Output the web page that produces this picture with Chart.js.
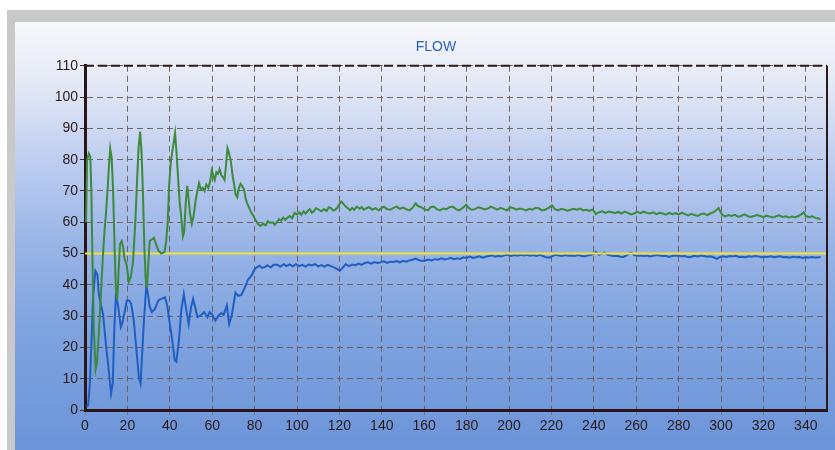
<!DOCTYPE html>
<html>
<head>
<meta charset="utf-8">
<script src="https://cdn.jsdelivr.net/npm/chart.js@4.4.1/dist/chart.umd.min.js"></script>
<style>
    html, body { margin: 0; padding: 0; background: #ffffff; }
    #frame {
        position: absolute; left: 7px; top: 10px; width: 828px; height: 440px;
        background: #c9c9c9;
    }
    #panel {
        position: absolute; left: 8px; top: 12px; right: 0; bottom: 0;
        background: linear-gradient(to bottom, #f7f8fb 0%, #e4e9f5 14%, #bfcef0 32%, #98b4e6 52%, #7fa3df 72%, #6b94d9 100%);
    }
    #wrap { position: absolute; left: 0; top: 0; width: 835px; height: 450px; }
</style>
</head>
<body>
<div id="frame"><div id="panel"></div></div>
<div id="wrap"><canvas id="flowChart" width="835" height="450"></canvas></div>
<script>
// flow readings: [time, value]
const greenFlow = [
    [0.5,60],[1,80],[1.8,82],[2.5,81],[3,70],[3.6,45],[4.2,25],[5,13],[5.6,15],[6.5,24],[7.5,37],[8.5,50],
    [9.2,57],[10,64],[10.7,71],[11.3,78],[11.9,83.5],[12.6,80.5],[13.3,69],[14,51],[14.6,38],[15.2,35],[15.8,44],
    [16.5,53],[17.3,54],[18,52],[18.6,48.5],[19.6,46.5],[20.7,41],[21.6,42.5],[22.6,47],[23.3,55],[23.8,61],
    [24.6,74],[25.3,84],[26,89],[26.7,82],[27.3,70],[28,52],[28.6,42],[29.2,39],[29.8,46],[30.5,54],[31.5,54.5],
    [32.5,55],[33.5,53],[34.6,51],[36,50],[37.5,50.5],[38.3,54],[39,60],[39.7,72],[40.5,79.5],[41.5,84],
    [42.5,88.5],[43.2,82],[43.9,74.4],[44.7,66],[45.4,61.8],[46.2,55.5],[46.8,57],[47.5,66],[48.2,71.6],
    [48.8,68],[49.5,63],[50.4,59.5],[51.2,62],[52.2,67],[53,70],[53.8,72.5],[54.6,70.5],[55.5,71],[56.4,70],
    [57.2,72],[58.2,71],[59,73],[59.8,76.5],[60.5,75],[61.2,73.5],[62,76],[62.7,75.5],[63.5,77],[64.3,75],
    [65,74.5],[65.8,73.5],[66.5,78],[67.2,83.7],[68,82],[68.8,79.5],[69.6,75],[70.3,72.3],[71,69],[71.8,68],
    [72.6,71],[73.4,72.3],[74.2,71.5],[75,70.5],[75.8,67.5],[76.5,66],[77.5,64.5],[78.5,63],[79.5,62],
    [80.4,60.7],[81.5,59.5],[82.8,58.8],[84,59.5],[85.2,59],[86.2,60.3],[87.3,59.8],[88.5,60],[89.5,59.2],
    [90.5,60],[91.5,61],[92.5,60.5],[93.5,61.5],[94.5,60.8],[95.6,61.5],[96.6,62],[97.7,61.3],[98.8,63],
    [100,62.5],[101,63.2],[102,62.4],[103,63.5],[104,62.8],[105,63.5],[106,64.2],[107,63],[108,63.6],[109,64.5],
    [110.4,64],[111.5,63.5],[112.8,64.2],[114,63.6],[115,64.8],[116,64.5],[117,63.8],[118,64],[119,64.6],
    [120,65.8],[120.9,66.6],[122,65.8],[123,65],[124,64.5],[125,63.8],[126,64.6],[127,64],[128.3,65],
    [129.5,64.3],[130.5,64.8],[131.5,64],[132.5,64.4],[134,64.8],[135.5,64],[137,64.5],[138.5,63.8],[140,64.6],
    [141,65],[142.5,64.2],[144,64],[145.5,64.6],[147,65],[148.5,64.3],[150,64.7],[151.5,64.2],[153,63.8],
    [154.5,64.6],[156,66],[157,65.2],[158.5,64.8],[160,64.2],[161.8,63.8],[163,64.8],[164.5,65],[166,64.2],
    [167.5,63.8],[169,64.4],[170.5,64.2],[172,64.8],[173.5,65],[175,64.2],[176.5,63.8],[178,64.5],[179.8,65.6],
    [181,64.6],[182.5,64],[184,64.2],[185.5,64.8],[187,64.5],[188.5,64.1],[190,64.4],[191.5,65],[193,64.5],
    [194.5,64],[196,64.6],[197.5,64.2],[199,63.8],[200.5,64.8],[202,64.5],[203.5,64],[205,64.4],[206.5,64.2],
    [208,63.8],[209.5,64.3],[211,64],[212.5,64.6],[214,64.5],[215.5,63.8],[217,64],[218.5,64.5],[220.3,65.4],
    [221.5,64.3],[223,63.8],[224.5,64.2],[226,64.1],[227.5,63.7],[229,64],[230.5,64.3],[232,64],[233.5,64.4],
    [235,63.8],[236.5,64],[238,63.6],[239.5,64.1],[241,62.6],[242.5,63.2],[244,63.5],[245.5,63],[247,63.4],
    [248.5,63.2],[250,63],[251.5,63.3],[253,62.8],[254.5,63.4],[256,63],[257.5,62.5],[259,62.8],[260.5,63.3],
    [262,62.9],[263.5,63.4],[265,63],[266.5,62.8],[268,63.2],[269.5,62.6],[271,63],[272.5,62.8],[274,62.4],
    [275.5,63],[277,62.6],[278.5,62.9],[280,62.5],[281.5,63],[283,62.6],[284.5,62.2],[286,62.7],[287.5,62.3],
    [289,62],[290.5,62.6],[292,62.8],[293.5,62.3],[295,62.8],[296.5,63.2],[298,64],[298.9,64.5],[300,63],
    [300.5,62.4],[302,61.9],[303.5,62.3],[305,62],[306.5,62.4],[308,61.8],[309.5,62],[311,62.5],[312.5,62],
    [314,61.7],[315.5,62],[317,62.3],[318.5,62],[320,61.6],[321.5,62.1],[323,61.8],[324.5,61.5],[326,61.9],
    [327.5,62.2],[329,61.7],[330.5,61.9],[332,61.5],[333.5,61.8],[335,61.6],[336.5,62],[338,62.6],[339,63.2],
    [340,62],[341.5,61.6],[343,61.9],[344.5,61.4],[346,61.2],[347,61]
];

const blueFlow = [
    [0.8,1],[1.5,1.6],[2.3,8.5],[3,21],[3.8,36],[4.9,44.5],[5.8,43.4],[6.5,37],[7.4,34],[8.5,30.7],[9.3,25],
    [10,20.1],[11.2,12.7],[12.3,5.3],[13.1,8.5],[13.8,25.4],[14.6,37],[15.7,32.8],[16.9,26.5],[17.7,28],
    [18.5,30.7],[19.7,35],[20.8,35],[21.8,33.9],[23,28.6],[24.3,19],[25.4,10.6],[26.2,8.5],[26.9,17],
    [27.7,27.5],[28.9,39.7],[29.5,38],[30.5,33],[31.5,31.3],[33,32.3],[34.6,35],[36,35.5],[37.7,36],
    [38.8,33.4],[40,27.5],[41.2,22.2],[42.3,15.9],[43.1,15.4],[44.3,22.2],[45.4,31.8],[46.6,37],[47.7,32.3],
    [48.9,27.5],[50,32.8],[51,35.5],[52,32.8],[53,29.7],[54.6,30.2],[56.2,31.3],[57.7,29.7],[58.8,31.3],
    [60,30.5],[61.5,28.6],[63,30.2],[64.3,31],[65.4,30.4],[66.9,33.4],[68,27.5],[69.2,30.2],[71,37.5],
    [72.3,36.5],[73.8,36.8],[75.4,39.2],[77,41.8],[78.5,42.9],[80,45],[81,45.6],[82.3,46.1],[83.5,45.4],
    [84.6,45.6],[86,46.2],[87.7,45.6],[89,46.4],[90.8,46.4],[92,45.8],[93.8,46.6],[95,46],[96.5,46.5],
    [98,45.9],[99.5,46.6],[101,46],[102.5,46.4],[104,45.8],[105.5,46.5],[107,46.2],[108.5,46.6],[110,45.9],
    [111.5,46.3],[113,45.8],[114.5,46.4],[116,46],[117.5,45.6],[119,45],[120.2,44.5],[121.5,45.4],[123,46.6],
    [124.5,46],[126,46.5],[127.5,46.3],[129,46.8],[130.5,46.4],[132,47],[133.5,47.2],[135,46.8],[136.5,47.3],
    [138,47],[139.5,47.2],[141,47.5],[142.5,47],[144,47.4],[145.5,47.3],[147,47.6],[148.5,47.2],[150,47.7],
    [151.5,47.4],[153,47.8],[154.5,48],[156,48.4],[157.5,47.9],[159,47.6],[160.5,47.8],[162,48.1],[163.5,47.8],
    [165,48.2],[166.5,48],[168,48.5],[169.5,48.1],[171,48.3],[172.5,48.6],[174,48.2],[175.5,48.5],[177,48.3],
    [178.5,48.8],[180,48.6],[181.5,49],[183,48.6],[184.5,48.8],[186,49.1],[187.5,48.7],[189,49],[190.5,49.2],
    [192,49.4],[193.5,49],[195,49.3],[196.5,49.1],[198,49.5],[199.5,49.6],[201,49.2],[202.5,49.5],[204,49.3],
    [205.5,49.6],[207,49.4],[208.5,49.6],[210,49.3],[211.5,49.5],[213,49.2],[214.5,49.6],[216,49.2],
    [217.5,48.8],[219,48.7],[220.5,49.2],[222,49.6],[223.5,49.4],[225,49.2],[226.5,49.5],[228,49.3],
    [229.5,49.4],[231,49.2],[232.5,49.5],[234,49.3],[235.5,49.1],[237,49.4],[238.5,49.5],[240,50],[241,50.5],
    [242.5,49.6],[244,50.1],[245,50.3],[246.5,49.6],[248,49.4],[249.5,49.2],[251,49.3],[252.5,49],[254,48.9],
    [255.5,49.4],[257,50.1],[257.6,50.3],[259,49.5],[260.5,49.3],[262,49.4],[263.5,49.2],[265,49.4],
    [266.5,49.1],[268,49.3],[269.5,49.5],[271,49.4],[272.5,49.2],[274,49.3],[275.5,48.9],[277,49.2],
    [278.5,49.4],[280,49.3],[281.5,49.1],[283,49.2],[284.5,48.8],[286,49],[287.5,49.3],[289,49.1],[290.5,49.4],
    [292,49.2],[293.5,49],[295,49.1],[296.5,48.8],[298.1,48.3],[299.5,48.9],[301,49.1],[302.5,48.9],[304,49.2],
    [305.5,49.1],[307,49.3],[308.5,48.9],[310,49],[311.5,48.8],[313,49.1],[314.5,49],[316,49.2],[317.5,49.1],
    [319,48.8],[320.5,49],[322,48.9],[323.5,49.1],[325,48.8],[326.5,49],[328,49.1],[329.5,48.8],[331,48.9],
    [332.5,48.7],[334,49],[335.5,48.8],[337,48.9],[338.5,48.6],[340,48.8],[341.5,48.7],[343,48.9],[344.5,48.7],
    [346,48.8],[347,48.9]
];

const setPoint = [[0, 50], [350, 50]];

const xTicks = [0, 20, 40, 60, 80, 100, 120, 140, 160, 180, 200, 220, 240, 260, 280, 300, 320, 340];
const xMax = 350;
const yMax = 110;

function toXY(list) {
    return list.map(function (p) { return { x: p[0], y: p[1] }; });
}

const frameLines = {
    id: "frameLines",
    afterDatasetsDraw(chart) {
        const a = chart.chartArea;
        const ctx = chart.ctx;
        ctx.save();
        ctx.strokeStyle = "#2b1818";
        ctx.lineWidth = 2;
        ctx.beginPath();
        ctx.moveTo(a.right, a.top);
        ctx.lineTo(a.right, a.bottom);
        ctx.stroke();
        ctx.setLineDash([9, 4]);
        ctx.beginPath();
        ctx.moveTo(a.left, a.top);
        ctx.lineTo(a.right, a.top);
        ctx.stroke();
        ctx.restore();
    }
};

const tickFont = { family: "'Liberation Sans', Arial, sans-serif", size: 14 };

new Chart(document.getElementById("flowChart"), {
    type: "line",
    data: {
        datasets: [
            {
                label: "Flow A",
                data: toXY(greenFlow),
                borderColor: "#3c8a3a",
                borderWidth: 2,
                pointRadius: 0,
                tension: 0,
            },
            {
                label: "Setpoint",
                data: toXY(setPoint),
                borderColor: "#f2e23a",
                borderWidth: 2,
                pointRadius: 0,
            },
            {
                label: "Flow B",
                data: toXY(blueFlow),
                borderColor: "#1f5ec2",
                borderWidth: 2,
                pointRadius: 0,
                tension: 0,
            },
        ],
    },
    options: {
        responsive: false,
        animation: false,
        devicePixelRatio: 1,
        layout: { padding: { left: 45, right: 8, top: 0, bottom: 0 } },
        plugins: {
            legend: { display: false },
            tooltip: { enabled: false },
            title: {
                display: true,
                text: "FLOW",
                color: "#2d60bd",
                font: { family: "'Liberation Sans', Arial, sans-serif", size: 14, weight: "normal" },
                padding: { top: 39, bottom: 10 },
            },
        },
        scales: {
            x: {
                type: "linear",
                min: 0,
                max: xMax,
                afterBuildTicks: function (scale) {
                    scale.ticks = xTicks.map(function (v) { return { value: v }; });
                },
                afterFit: function (scale) { scale.height = 40; },
                ticks: { autoSkip: false, color: "#2a1a1a", font: tickFont, maxRotation: 0, padding: 3 },
                grid: {
                    color: "rgba(105, 90, 85, 0.9)",
                    lineWidth: 1,
                    tickLength: 5,
                    tickColor: "rgba(110, 95, 90, 0.6)",
                },
                border: { color: "#2b1616", width: 3, dash: [6, 4] },
            },
            y: {
                min: 0,
                max: yMax,
                afterFit: function (scale) { scale.width = 40; },
                ticks: { stepSize: 10, autoSkip: false, color: "#2a1a1a", font: tickFont, padding: 2 },
                grid: {
                    color: "rgba(105, 90, 85, 0.9)",
                    lineWidth: 1,
                    tickLength: 5,
                    tickColor: "#3a2a2a",
                },
                border: { color: "#2b1616", width: 3, dash: [6, 4] },
            },
        },
    },
    plugins: [frameLines],
});
</script>
</body>
</html>
